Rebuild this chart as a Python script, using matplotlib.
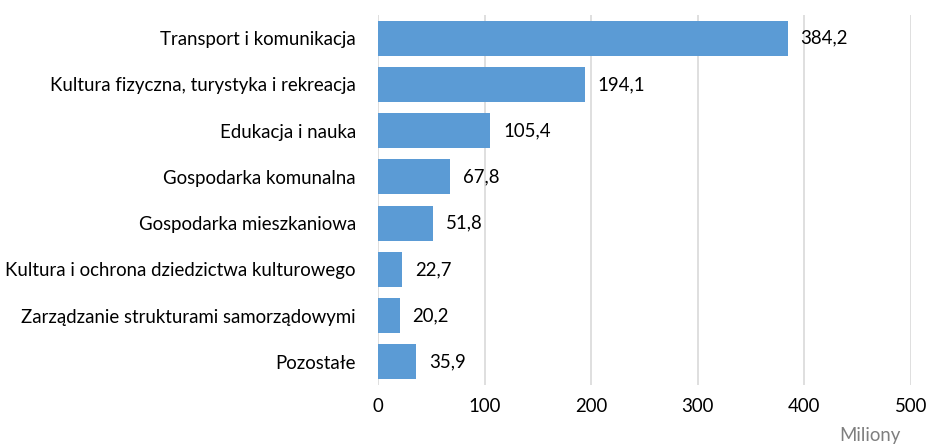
import matplotlib
matplotlib.use("Agg")
import matplotlib.pyplot as plt

categories = [
    "Transport i komunikacja",
    "Kultura fizyczna, turystyka i rekreacja",
    "Edukacja i nauka",
    "Gospodarka komunalna",
    "Gospodarka mieszkaniowa",
    "Kultura i ochrona dziedzictwa kulturowego",
    "Zarządzanie strukturami samorządowymi",
    "Pozostałe",
]
values = [384.2, 194.1, 105.4, 67.8, 51.8, 22.7, 20.2, 35.9]
xticks = [0, 100, 200, 300, 400, 500]
unit_label = "Miliony"

plt.rcParams['font.family'] = ['Lato', 'DejaVu Sans']
FS = 13.4

fig = plt.figure(figsize=(9.28, 4.46), dpi=100)
ax = fig.add_axes([378/928, 1-385/446, (911-378)/928, (385-15)/446])

ypos = list(range(len(categories)))
ax.barh(ypos, values, height=0.76, color="#5B9BD5", zorder=3)
ax.set_ylim(len(categories)-0.5, -0.5)
ax.set_xlim(0, 500)
ax.set_xticks(xticks)
ax.set_xticklabels([str(t) for t in xticks], fontsize=FS, color="#000000")
ax.set_yticks(ypos)
ax.set_yticklabels(categories, fontsize=FS, color="#000000")
ax.tick_params(axis='x', length=0, pad=9)
ax.tick_params(axis='y', length=0, pad=16)
ax.grid(axis='x', color="#D9D9D9", linewidth=1.2, zorder=0)
for s in ax.spines.values():
    s.set_visible(False)

for y, v in zip(ypos, values):
    ax.text(v + 12, y, f"{v:.1f}".replace(".", ","), va="center", ha="left",
            fontsize=FS, color="#000000")

fig.text(870/928, 1-436/446, unit_label, ha="center", va="center", fontsize=FS, color="#7F7F7F")

fig.savefig("out.png", dpi=100)
